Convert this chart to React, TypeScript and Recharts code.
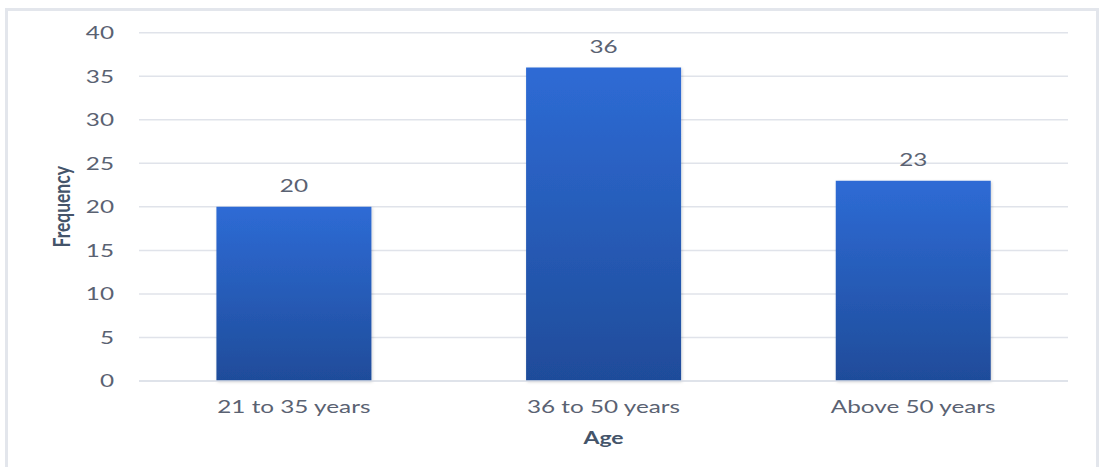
import React from 'react';
import { BarChart, Bar, XAxis, YAxis, CartesianGrid, LabelList, Label } from 'recharts';

const categories = ['21 to 35 years', '36 to 50 years', 'Above 50 years'];
const frequencies = [20, 36, 23];
const yTicks = [0, 5, 10, 15, 20, 25, 30, 35, 40];
const xTitle = 'Age';
const yTitle = 'Frequency';

const data = categories.map((c, i) => ({ age: c, freq: frequencies[i] }));

const FONT = 'Lato, "Open Sans", sans-serif';
const SX = 1.35;
const TICK_COLOR = '#5a6272';
const TITLE_COLOR = '#44546a';

const YTick = (props: any) => {
  const { x, y, payload } = props;
  return (
    <g transform={`translate(${x},${y}) scale(${SX},1)`}>
      <text x={0} y={0} dy="0.355em" textAnchor="end" fill={TICK_COLOR} fontFamily={FONT} fontSize={18}>
        {payload.value}
      </text>
    </g>
  );
};

const XTick = (props: any) => {
  const { x, y, payload } = props;
  return (
    <g transform={`translate(${x},${y}) scale(${SX},1)`}>
      <text x={0} y={0} dy="0.71em" textAnchor="middle" fill={TICK_COLOR} fontFamily={FONT} fontSize={18}>
        {payload.value}
      </text>
    </g>
  );
};

const ValueLabel = (props: any) => {
  const { x, y, width, value } = props;
  return (
    <g transform={`translate(${x + width / 2},${y - 15}) scale(${SX},1)`}>
      <text x={0} y={0} textAnchor="middle" fill={TICK_COLOR} fontFamily={FONT} fontSize={18}>
        {value}
      </text>
    </g>
  );
};

export default function App() {
  return (
    <div style={{ position: 'absolute', left: 0, top: 0, width: 1100, height: 467, overflow: 'hidden', background: '#fff' }}>
      <div
        style={{
          position: 'absolute',
          left: 5,
          top: 8,
          width: 1088,
          height: 470,
          borderTop: '3px solid #e3e6ec',
          borderLeft: '3px solid #e3e6ec',
          borderRight: '3px solid #e3e6ec',
        }}
      />
      <div style={{ position: 'absolute', left: 0, top: 0 }}>
        <BarChart
          width={1100}
          height={467}
          data={data}
          margin={{ top: 32.7, right: 32, bottom: 0, left: 0 }}
          barCategoryGap="25%"
        >
          <defs>
            <linearGradient id="barGrad" x1="0" y1="0" x2="0" y2="1">
              <stop offset="0%" stopColor="#2e6bd5" />
              <stop offset="100%" stopColor="#1f4c9a" />
            </linearGradient>
            <filter id="barShadow" x="-10%" y="-10%" width="120%" height="120%">
              <feDropShadow dx="1" dy="1" stdDeviation="1.5" floodColor="#000" floodOpacity="0.18" />
            </filter>
          </defs>
          <CartesianGrid vertical={false} stroke="#e0e3ea" strokeWidth={1.5} />
          <XAxis
            dataKey="age"
            height={86}
            tickLine={false}
            axisLine={{ stroke: '#dde1e8', strokeWidth: 1.5 }}
            tickSize={6}
            tickMargin={13}
            tick={<XTick />}
            interval={0}
          >
            <Label
              content={(p: any) => {
                const vb = p.viewBox;
                return (
                  <g transform={`translate(${vb.x + vb.width / 2},${vb.y + 57}) scale(${SX},1)`}>
                    <text x={0} y={0} dy="0.35em" textAnchor="middle" fill={TITLE_COLOR} fontFamily={FONT} fontWeight="bold" fontSize={17}>
                      {xTitle}
                    </text>
                  </g>
                );
              }}
            />
          </XAxis>
          <YAxis
            width={139}
            domain={[0, 40]}
            ticks={yTicks}
            interval={0}
            tickLine={false}
            axisLine={false}
            tickSize={6}
            tickMargin={19}
            tick={<YTick />}
          >
            <Label
              content={(p: any) => {
                const vb = p.viewBox;
                return (
                  <g transform={`translate(${vb.x + 62},${vb.y + vb.height / 2}) scale(${SX},1) rotate(-90)`}>
                    <text x={0} y={0} dy="0.35em" textAnchor="middle" fill={TITLE_COLOR} fontFamily={FONT} fontWeight="bold" fontSize={17.5}>
                      {yTitle}
                    </text>
                  </g>
                );
              }}
            />
          </YAxis>
          <Bar dataKey="freq" fill="url(#barGrad)" isAnimationActive={false} filter="url(#barShadow)">
            <LabelList dataKey="freq" content={<ValueLabel />} />
          </Bar>
        </BarChart>
      </div>
    </div>
  );
}
